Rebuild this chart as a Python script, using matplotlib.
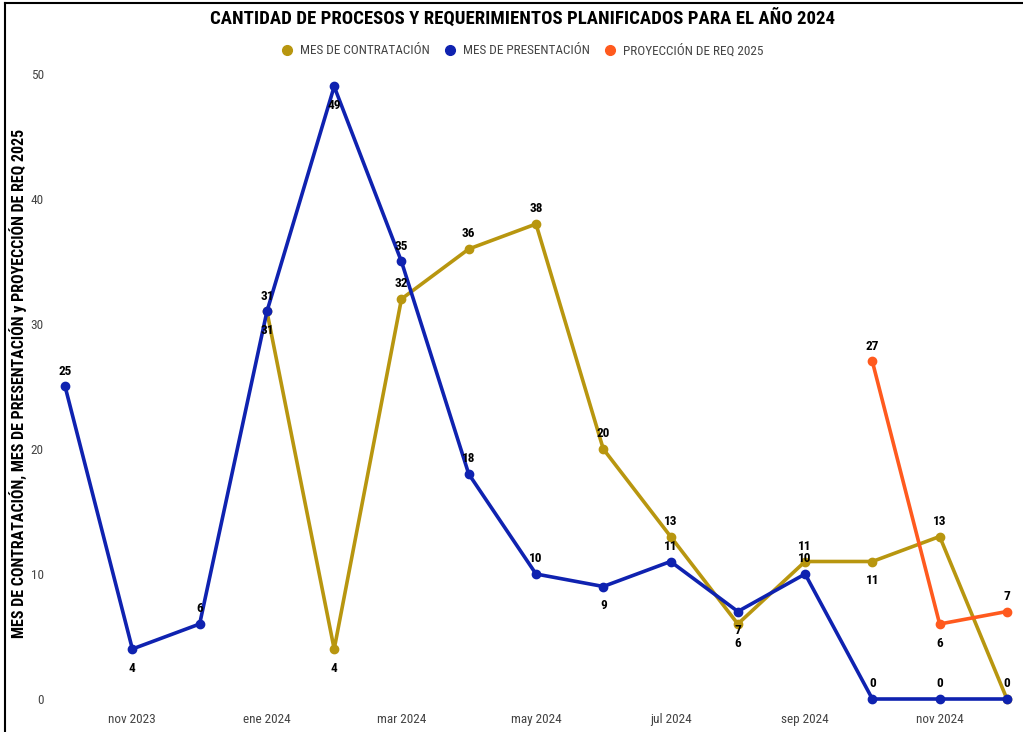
import matplotlib.pyplot as plt
from matplotlib.lines import Line2D

plt.rcParams['font.family'] = ['Roboto Condensed', 'Roboto', 'DejaVu Sans']

meses = ['oct 2023', 'nov 2023', 'dic 2023', 'ene 2024', 'feb 2024', 'mar 2024', 'abr 2024',
         'may 2024', 'jun 2024', 'jul 2024', 'ago 2024', 'sep 2024', 'oct 2024', 'nov 2024', 'dic 2024']
presentacion = [25, 4, 6, 31, 49, 35, 18, 10, 9, 11, 7, 10, 0, 0, 0]
contratacion = [None, None, None, 31, 4, 32, 36, 38, 20, 13, 6, 11, 11, 13, 0]
proyeccion = [None] * 12 + [27, 6, 7]
etiquetas_x = ['nov 2023', 'ene 2024', 'mar 2024', 'may 2024', 'jul 2024', 'sep 2024', 'nov 2024']

# posicion de etiqueta: 1 arriba, -1 abajo, 0 ninguna
pos_pres = [1, -1, 1, 1, -1, 1, 1, 1, -1, 1, -1, 1, 1, 1, 1]
pos_cont = [0, 0, 0, -1, -1, 1, 1, 1, 1, 1, -1, 1, -1, 1, 0]
pos_proy = [0] * 12 + [1, -1, 1]

c_cont = '#B8960F'
c_pres = '#0F22B0'
c_proy = '#FF5A1E'

fig = plt.figure(figsize=(10.23, 7.32), dpi=100)
ax = fig.add_axes([55 / 1023, 1 - 705 / 732, 960 / 1023, 637 / 732])

x = list(range(len(meses)))


def serie(vals, color, pos):
    xs = [i for i, v in zip(x, vals) if v is not None]
    ys = [v for v in vals if v is not None]
    ax.plot(xs, ys, color=color, lw=2.6, marker='o', ms=6, zorder=3)
    for i, v in zip(x, vals):
        if v is None or pos[i] == 0:
            continue
        off = 11 if pos[i] > 0 else -14
        ax.annotate(str(v), (i, v), xytext=(0, off), textcoords='offset points',
                    ha='center', va='center', fontsize=9.5, fontweight='bold', zorder=4)


serie(contratacion, c_cont, pos_cont)
serie(presentacion, c_pres, pos_pres)
serie(proyeccion, c_proy, pos_proy)

ax.set_xlim(-0.15, 14.12)
ax.set_ylim(-0.48, 50.48)
ax.set_yticks([0, 10, 20, 30, 40, 50])
ax.set_xticks(x[1::2])
ax.set_xticklabels(etiquetas_x)
ax.tick_params(length=0, labelsize=9.5, colors='#444444')
ax.tick_params(axis='y', pad=8)
ax.tick_params(axis='x', pad=6)
for s in ax.spines.values():
    s.set_visible(False)

ax.set_ylabel('MES DE CONTRATACIÓN, MES DE PRESENTACIÓN y PROYECCIÓN DE REQ 2025',
              fontsize=11.5, fontweight='bold')
ax.yaxis.set_label_coords(-0.029, 0.505)

fig.text(0.511, 0.975, 'CANTIDAD DE PROCESOS Y REQUERIMIENTOS PLANIFICADOS PARA EL AÑO 2024',
         ha='center', va='center', fontsize=13.5, fontweight='bold')

handles = [Line2D([], [], ls='', marker='o', color=c, ms=7) for c in (c_cont, c_pres, c_proy)]
fig.legend(handles, ['MES DE CONTRATACIÓN', 'MES DE PRESENTACIÓN', 'PROYECCIÓN DE REQ 2025'],
           loc='center', bbox_to_anchor=(0.507, 0.931), ncol=3, frameon=False, fontsize=9.5,
           handletextpad=0.0, columnspacing=0.5, labelcolor='#444444')

# borde del escaneo
fig.add_artist(Line2D([5 / 1023, 5 / 1023], [0, 1 - 3 / 732], color='black', lw=1.5))
fig.add_artist(Line2D([5 / 1023, 1], [1 - 3 / 732, 1 - 3 / 732], color='black', lw=1.5))

fig.savefig('out.png', dpi=100)
